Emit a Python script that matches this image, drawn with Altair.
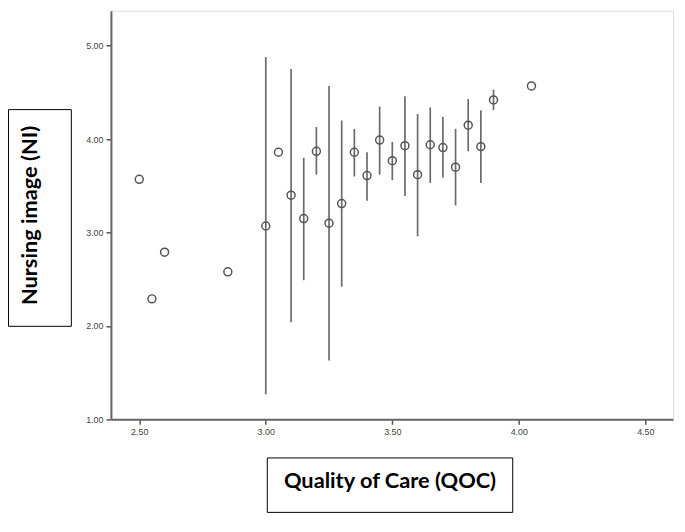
import altair as alt
import pandas as pd

# Quality of Care (x) categories and Nursing image (y) means with error bar ends
qoc = [2.50, 2.55, 2.60, 2.85, 3.00, 3.05, 3.10, 3.15, 3.20, 3.25, 3.30, 3.35,
       3.40, 3.45, 3.50, 3.55, 3.60, 3.65, 3.70, 3.75, 3.80, 3.85, 3.90, 4.05]
ni_mean = [3.57, 2.29, 2.79, 2.58, 3.07, 3.86, 3.40, 3.15, 3.87, 3.10, 3.31, 3.86,
           3.61, 3.99, 3.77, 3.93, 3.62, 3.94, 3.91, 3.70, 4.15, 3.92, 4.42, 4.57]
ni_low = [None, None, None, None, 1.27, None, 2.04, 2.49, 3.62, 1.63, 2.42, 3.60,
          3.34, 3.62, 3.56, 3.39, 2.96, 3.53, 3.59, 3.29, 3.87, 3.53, 4.31, None]
ni_high = [None, None, None, None, 4.88, None, 4.75, 3.80, 4.13, 4.57, 4.20, 4.11,
           3.86, 4.35, 3.97, 4.46, 4.27, 4.34, 4.24, 4.11, 4.43, 4.31, 4.53, None]

x_ticks = [2.5, 3.0, 3.5, 4.0, 4.5]
y_ticks = [1.0, 2.0, 3.0, 4.0, 5.0]
x_title = "Quality of Care (QOC)"
y_title = "Nursing image (NI)"

df = pd.DataFrame({"qoc": qoc, "mean": ni_mean, "low": ni_low, "high": ni_high})
bars = df.dropna()

W, H = 568, 413
xs = alt.Scale(domain=[2.388, 4.6095], nice=False, zero=False)
ys = alt.Scale(domain=[1.0, 5.376], nice=False, zero=False)

axis_common = dict(
    format=".2f", labelFont="Liberation Sans", labelFontSize=9, labelColor="#444",
    tickColor="#555", tickSize=5, tickWidth=1.5, domainColor="#666", domainWidth=2,
    grid=False, title=None, labelPadding=3,
)

xenc = alt.X("qoc:Q", scale=xs, axis=alt.Axis(values=x_ticks, **axis_common))
yenc = alt.Y("mean:Q", scale=ys, axis=alt.Axis(values=y_ticks, **axis_common))

rules = alt.Chart(bars).mark_rule(color="#6a6a6a", strokeWidth=1.7).encode(
    x=xenc, y=alt.Y("low:Q", scale=ys), y2="high:Q"
)
points = alt.Chart(df).mark_point(
    filled=False, color="#555", size=65, strokeWidth=1.5, opacity=1
).encode(x=xenc, y=yenc)

# boxed axis titles
xbox = alt.Chart(df.head(1)).mark_rect(fill="white", stroke="black", strokeWidth=1).encode(
    x=alt.value(158), x2=alt.value(406), y=alt.value(452), y2=alt.value(507)
)
xtext = alt.Chart(df.head(1)).mark_text(
    text=x_title, font="Lato", fontWeight="bold", fontSize=22, color="black",
    align="center", baseline="middle"
).encode(x=alt.value(282), y=alt.value(475))

ybox = alt.Chart(df.head(1)).mark_rect(fill="white", stroke="black", strokeWidth=1).encode(
    x=alt.value(-103.5), x2=alt.value(-40), y=alt.value(100), y2=alt.value(319)
)
ytext = alt.Chart(df.head(1)).mark_text(
    text=y_title, font="Lato", fontWeight="bold", fontSize=22, color="black",
    align="center", baseline="middle", angle=270
).encode(x=alt.value(-82), y=alt.value(207))

chart = alt.layer(rules, points, xbox, xtext, ybox, ytext).properties(
    width=W, height=H,
    autosize=alt.AutoSizeParams(type="none"),
    padding={"left": 104, "top": 0, "right": 4, "bottom": 95},
).configure_view(
    fill="#f0f0f0", stroke="#8a8a8a", strokeWidth=2
).configure(background="white")

chart.save("out.html", embed_options={"renderer": "svg", "actions": False})
